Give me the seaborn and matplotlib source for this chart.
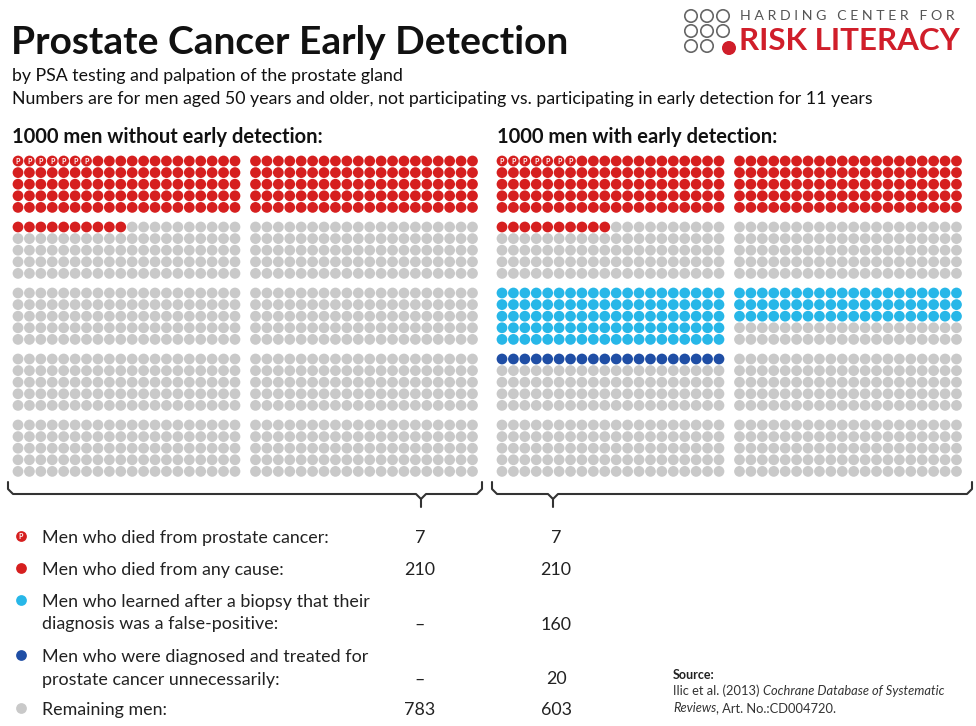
import numpy as np
import pandas as pd
import matplotlib.pyplot as plt
import seaborn as sns

# chart data
categories = ["prostate", "any_cause", "false_positive", "overtreated", "remaining"]
legend_lines = [
    ["Men who died from prostate cancer:"],
    ["Men who died from any cause:"],
    ["Men who learned after a biopsy that their", "diagnosis was a false-positive:"],
    ["Men who were diagnosed and treated for", "prostate cancer unnecessarily:"],
    ["Remaining men:"],
]
without_values = ["7", "210", "\u2013", "\u2013", "783"]
with_values = ["7", "210", "160", "20", "603"]
# dots drawn in colour (prostate deaths are among the 210 red dots)
without_dots = {"any_cause": 210, "false_positive": 0, "overtreated": 0}
with_dots = {"any_cause": 210, "false_positive": 160, "overtreated": 20}
prostate_deaths = [7, 7]
panel_titles = ["1000 men without early detection:", "1000 men with early detection:"]

colors = {
    "any_cause": "#d61f1f",
    "false_positive": "#27b7e8",
    "overtreated": "#1f4ea5",
    "remaining": "#c9c9c9",
}

sns.set_style("white")
plt.rcParams["font.family"] = ["Lato", "DejaVu Sans"]

fig = plt.figure(figsize=(9.76, 7.26), dpi=100)
ax = fig.add_axes([0, 0, 1, 1])


def grid_positions(x0):
    # block rows of 2 blocks, each block 20 x 5 dots
    pts = []
    for br in range(5):
        for col in range(2):
            for r in range(5):
                for c in range(20):
                    pts.append((br, x0 + col * 237.5 + c * 11.42, 161 + br * 66 + r * 11.6))
    return pts


rows = []
p_points = []
for panel, (x0, dots, npros) in enumerate(zip([18, 502], [without_dots, with_dots], prostate_deaths)):
    pts = grid_positions(x0)
    groups = ["remaining"] * len(pts)
    start = 0
    for cat, n in dots.items():
        if n == 0:
            continue
        for i in range(start, start + n):
            groups[i] = cat
        if cat == "any_cause":
            p_points += [(pts[i][1], pts[i][2]) for i in range(start, start + npros)]
        last_br = pts[start + n - 1][0]
        start = (last_br + 1) * 200
    for (br, x, y), g in zip(pts, groups):
        rows.append({"panel": panel, "x": x, "y": y, "group": g})

df = pd.DataFrame(rows)
sns.scatterplot(data=df, x="x", y="y", hue="group", palette=colors, s=60,
                linewidth=0, legend=False, ax=ax)
ax.set_xlim(0, 976)
ax.set_ylim(726, 0)
ax.axis("off")
for x, y in p_points:
    ax.text(x, y + 0.3, "P", color="white", fontsize=5, fontweight="bold",
            ha="center", va="center")

# header
ax.text(11, 42, "Prostate Cancer Early Detection", fontsize=28, fontweight="bold",
        ha="left", va="center", color="#111111")
ax.text(12, 76, "by PSA testing and palpation of the prostate gland", fontsize=12.8,
        ha="left", va="center", color="#111111")
ax.text(12, 99, "Numbers are for men aged 50 years and older, not participating vs. "
        "participating in early detection for 11 years", fontsize=12.8,
        ha="left", va="center", color="#111111")
for x0, t in zip([12, 497], panel_titles):
    ax.text(x0, 137, t, fontsize=14.5, fontweight="bold", ha="left", va="center",
            color="#111111")

# logo
for i, cx in enumerate([691, 707, 723]):
    for j, cy in enumerate([16, 31, 46]):
        if i == 2 and j == 2:
            continue
        ax.add_patch(plt.Circle((cx, cy), 6.2, fill=False, ec="#666666", lw=1.2))
ax.add_patch(plt.Circle((729, 48), 6.3, color="#d01e2a"))
ax.text(740, 16, "H A R D I N G   C E N T E R   F O R", fontsize=10.2, color="#555555",
        ha="left", va="center")
ax.text(739, 41, "RISK LITERACY", fontsize=22.5, fontweight="bold", color="#d01e2a",
        ha="left", va="center")

# brackets
for xl, xr, xm in [(8, 482, 421), (492, 972, 553)]:
    ax.plot([xl, xl, xl + 5, xm - 5, xm, xm], [482, 489, 494, 494, 499, 507],
            color="#333333", lw=1.5, solid_capstyle="round")
    ax.plot([xm, xm + 5, xr - 5, xr, xr], [499, 494, 494, 489, 482],
            color="#333333", lw=1.5, solid_capstyle="round")

# legend table
key_y = [536, 568, 600, 655, 708]
key_colors = [colors["any_cause"], colors["any_cause"], colors["false_positive"],
              colors["overtreated"], colors["remaining"]]
for cat, y, c, lines, v0, v1 in zip(categories, key_y, key_colors, legend_lines,
                                    without_values, with_values):
    ax.scatter([21], [y], s=60, color=c, linewidths=0)
    if cat == "prostate":
        ax.text(21, y + 0.3, "P", color="white", fontsize=5, fontweight="bold",
                ha="center", va="center")
    for k, line in enumerate(lines):
        ax.text(42, y + 2 + k * 22.5, line, fontsize=12.9, ha="left", va="center",
                color="#222222")
    vy = y + 2 + (len(lines) - 1) * 22.5
    ax.text(420, vy, v0, fontsize=12.9, ha="center", va="center", color="#222222")
    ax.text(556, vy, v1, fontsize=12.9, ha="center", va="center", color="#222222")

# source
ax.text(673, 675, "Source:", fontsize=9, fontweight="bold", ha="left", va="center",
        color="#222222")
fig.canvas.draw()
renderer = fig.canvas.get_renderer()


def put_pieces(x, y, pieces):
    for txt, style in pieces:
        t = ax.text(x, y, txt, fontsize=9.3, style=style, ha="left", va="center",
                    color="#333333")
        bb = t.get_window_extent(renderer=renderer)
        x += bb.width


put_pieces(673, 691, [("Ilic et al. (2013) ", "normal"),
                      ("Cochrane Database of Systematic", "italic")])
put_pieces(673, 708, [("Reviews", "italic"), (", Art. No.:CD004720.", "normal")])

fig.savefig("out.png", dpi=100)
